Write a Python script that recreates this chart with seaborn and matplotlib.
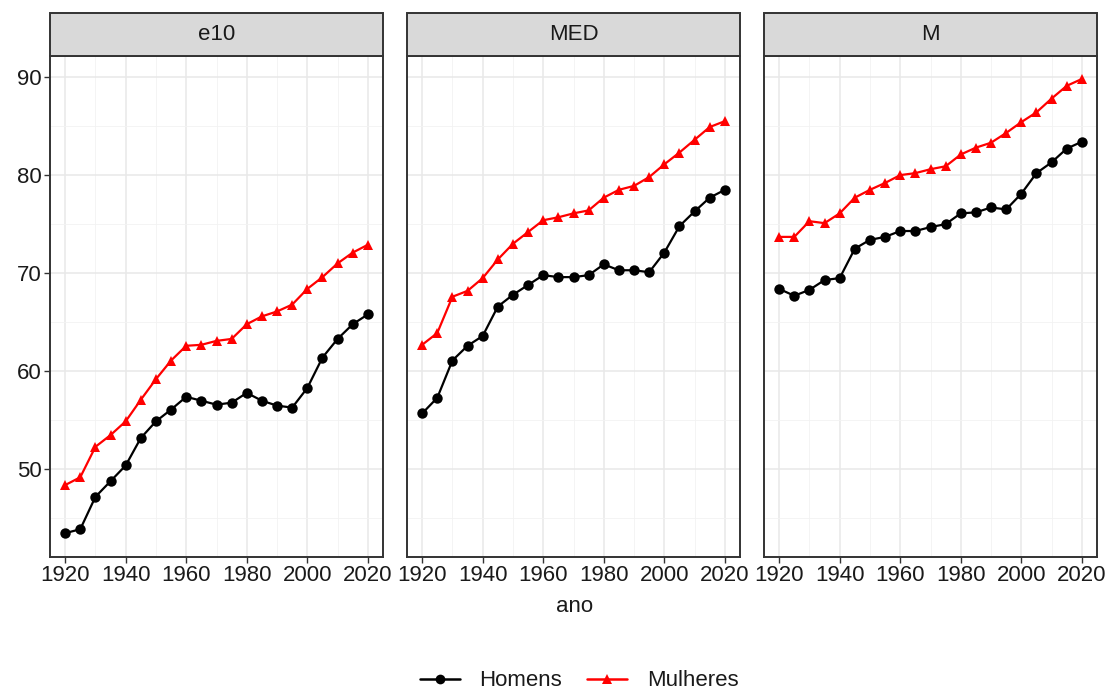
import numpy as np
import pandas as pd
import matplotlib
matplotlib.use("Agg")
import matplotlib.pyplot as plt
from matplotlib.patches import Rectangle
from matplotlib.lines import Line2D
import seaborn as sns

anos = [1920, 1925, 1930, 1935, 1940, 1945, 1950, 1955, 1960, 1965, 1970,
        1975, 1980, 1985, 1990, 1995, 2000, 2005, 2010, 2015, 2020]

e10_homens = [43.5, 43.9, 47.2, 48.8, 50.4, 53.2, 54.9, 56.1, 57.4, 57.0, 56.6,
              56.8, 57.8, 57.0, 56.5, 56.3, 58.3, 61.4, 63.3, 64.8, 65.8]
e10_mulheres = [48.4, 49.2, 52.3, 53.5, 54.9, 57.1, 59.2, 61.1, 62.6, 62.7, 63.1,
                63.3, 64.8, 65.6, 66.1, 66.8, 68.4, 69.6, 71.0, 72.1, 72.9]
med_homens = [55.7, 57.3, 61.1, 62.6, 63.6, 66.6, 67.8, 68.8, 69.8, 69.6, 69.6,
              69.8, 70.9, 70.3, 70.3, 70.1, 72.1, 74.8, 76.3, 77.7, 78.5]
med_mulheres = [62.7, 63.9, 67.6, 68.2, 69.5, 71.4, 73.0, 74.2, 75.4, 75.7, 76.1,
                76.4, 77.7, 78.5, 78.9, 79.8, 81.1, 82.3, 83.6, 84.9, 85.5]
m_homens = [68.4, 67.7, 68.3, 69.3, 69.5, 72.5, 73.4, 73.7, 74.3, 74.3, 74.7,
            75.0, 76.1, 76.2, 76.7, 76.5, 78.1, 80.2, 81.3, 82.7, 83.4]
m_mulheres = [73.7, 73.7, 75.3, 75.1, 76.1, 77.7, 78.5, 79.2, 80.0, 80.2, 80.6,
              80.9, 82.1, 82.8, 83.3, 84.3, 85.4, 86.4, 87.8, 89.1, 89.8]

paineis = ["e10", "MED", "M"]
sexos = ["Homens", "Mulheres"]
x_ticks = [1920, 1940, 1960, 1980, 2000, 2020]
y_ticks = [50, 60, 70, 80, 90]

series = {
    ("e10", "Homens"): e10_homens, ("e10", "Mulheres"): e10_mulheres,
    ("MED", "Homens"): med_homens, ("MED", "Mulheres"): med_mulheres,
    ("M", "Homens"): m_homens, ("M", "Mulheres"): m_mulheres,
}
rows = []
for (p, s), vals in series.items():
    for a, v in zip(anos, vals):
        rows.append({"painel": p, "sexo": s, "ano": a, "valor": v})
df = pd.DataFrame(rows)

sns.set_theme(style="white")
plt.rcParams["font.family"] = ["Liberation Sans", "DejaVu Sans"]

W, H = 1108, 691
fig, axes = plt.subplots(1, 3, figsize=(W / 100, H / 100), dpi=100, sharey=True)
fig.subplots_adjust(left=50 / W, right=1097 / W, top=1 - 56 / H, bottom=1 - 557 / H,
                    wspace=24 / 333)

palette = {"Homens": "black", "Mulheres": "#FF0000"}
markers = {"Homens": "o", "Mulheres": "^"}
border = "#333333"
txtcol = "#1a1a1a"

for ax, p in zip(axes, paineis):
    sub = df[df["painel"] == p]
    ax.set_xticks([1930, 1950, 1970, 1990, 2010], minor=True)
    ax.set_yticks([45, 55, 65, 75, 85], minor=True)
    ax.set_xticks(x_ticks)
    ax.set_yticks(y_ticks)
    ax.grid(True, which="major", color="#E8E8E8", linewidth=1.1)
    ax.grid(True, which="minor", color="#F2F2F2", linewidth=0.6)
    ax.set_axisbelow(True)
    sns.lineplot(data=sub, x="ano", y="valor", hue="sexo", style="sexo",
                 hue_order=sexos, style_order=sexos, palette=palette,
                 markers=markers, dashes=False, markersize=7.5,
                 markeredgewidth=0, linewidth=1.6, legend=False, ax=ax)
    ax.set_xlim(1915, 2025)
    ax.set_ylim(41.07, 92.14)
    for sp in ax.spines.values():
        sp.set_color(border)
        sp.set_linewidth(1.4)
        sp.set_visible(True)
    ax.tick_params(axis="both", which="major", length=4, width=1, color=border,
                   labelsize=16, labelcolor=txtcol, pad=2, bottom=True, left=True)
    ax.tick_params(axis="both", which="minor", length=0)
    ax.set_xlabel("")
    ax.set_ylabel("")
    hstrip = 43 / 501
    ax.add_patch(Rectangle((0, 1), 1, hstrip, transform=ax.transAxes,
                           facecolor="#D9D9D9", edgecolor=border, linewidth=1.4,
                           clip_on=False, zorder=5))
    ax.text(0.5, 1 + hstrip / 2, p, transform=ax.transAxes, ha="center",
            va="center", fontsize=16, color=txtcol, zorder=6)

for ax in axes[1:]:
    ax.tick_params(axis="y", left=False, labelleft=False)

fig.text(575 / W, 1 - 606 / H, "ano", ha="center", va="center", fontsize=16,
         color=txtcol)

handles = [Line2D([0], [0], color=palette[s], marker=markers[s], markersize=7,
                  markeredgewidth=0, linewidth=1.8) for s in sexos]
fig.legend(handles, sexos, loc="center", bbox_to_anchor=(579 / W, 1 - 681 / H),
           ncol=2, frameon=False, fontsize=16, handlelength=1.8,
           columnspacing=1.1, handletextpad=0.9, labelcolor=txtcol)

fig.savefig("out.png", dpi=100)
